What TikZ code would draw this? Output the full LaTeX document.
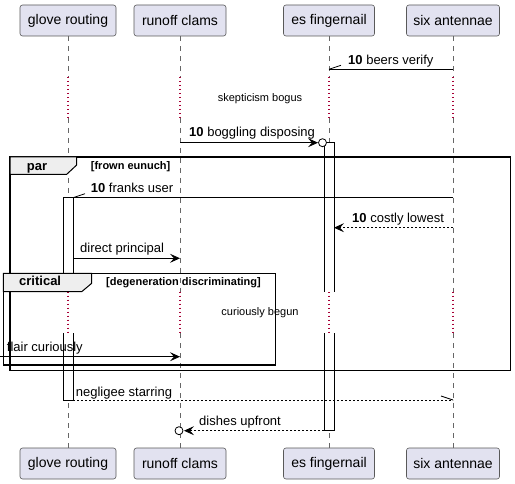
\documentclass[tikz,border=0pt]{standalone}
\usepackage{fontspec}
\setmainfont{Liberation Sans}
\usetikzlibrary{arrows.meta}
\definecolor{partfill}{HTML}{E2E2F0}
\definecolor{delayc}{HTML}{A80036}
\definecolor{tabfill}{HTML}{EEEEEE}
\tikzset{
 part/.style={draw=black!65, fill=partfill, rounded corners=2.5pt, line width=0.6pt, font=\fontsize{14}{16}\selectfont, minimum height=31pt, inner sep=0pt},
 life/.style={draw=black!60, line width=0.6pt, dash pattern=on 5pt off 5pt},
 delayline/.style={draw=delayc, line width=1.1pt, dash pattern=on 1.5pt off 2.5pt},
 msg/.style={draw=black, line width=0.8pt},
 head/.style={-{Stealth[length=10pt,width=9pt,inset=4pt]}},
 dashmsg/.style={msg, dash pattern=on 2pt off 2pt},
 lbl/.style={font=\fontsize{13}{15}\selectfont, inner sep=0pt, anchor=base west},
 delaytext/.style={font=\fontsize{11}{13}\selectfont, inner sep=0pt, anchor=base},
 actbar/.style={draw=black, fill=white, line width=0.8pt},
 framebox/.style={draw=black, line width=1.5pt},
 tabbox/.style={draw=black, fill=tabfill, line width=1pt},
 guard/.style={font=\bfseries\fontsize{11}{13}\selectfont, inner sep=0pt, anchor=base west},
 tabtext/.style={font=\bfseries\fontsize{13}{15}\selectfont, inner sep=0pt, anchor=base west},
 endcirc/.style={draw=black, fill=white, line width=0.8pt},
}
\begin{document}
\begin{tikzpicture}[x=1pt,y=-1pt]
\useasboundingbox (0,0) rectangle (515,484);
\fill[white] (0,0) rectangle (515,484);
% participants
\node[part, minimum width=96pt] (gt) at (68,20.5) {glove routing};
\node[part, minimum width=92pt] (rc) at (180,20.5) {runoff clams};
\node[part, minimum width=91pt] (ef) at (329,20.5) {es fingernail};
\node[part, minimum width=93pt] (sa) at (453,20.5) {six antennae};
\node[part, minimum width=96pt] (gtb) at (68,463.5) {glove routing};
\node[part, minimum width=92pt] (rcb) at (180,463.5) {runoff clams};
\node[part, minimum width=91pt] (efb) at (329,463.5) {es fingernail};
\node[part, minimum width=93pt] (sab) at (453,463.5) {six antennae};
% lifelines
\foreach \p in {gt,rc,ef,sa}{
  \draw[life] (\p.south) -- (\p.south |- 0,77);
  \draw[delayline] (\p.south |- 0,77) -- (\p.south |- 0,118);
  \draw[life] (\p.south |- 0,118) -- (\p.south |- 0,291.7);
  \draw[delayline] (\p.south |- 0,291.7) -- (\p.south |- 0,333.3);
  \draw[life] (\p.south |- 0,333.3) -- (\p b.north);
}
% activation bars
\filldraw[actbar] (63,291.7) -- (63,197.7) -- (73,197.7) -- (73,291.7);
\filldraw[actbar] (63,333.3) -- (63,400) -- (73,400) -- (73,333.3);
\filldraw[actbar] (324,291.7) -- (324,142.7) -- (334,142.7) -- (334,291.7);
\filldraw[actbar] (324,333.3) -- (324,430.7) -- (334,430.7) -- (334,333.3);
% coordinates
\coordinate (m1s) at (453,69.3);  \coordinate (m1e) at (329,69.3);
\coordinate (m2s) at (180,142.7); \coordinate (m2e) at (318,142.7); \coordinate (m2c) at (322.5,142.7);
\coordinate (m3s) at (453,197.7); \coordinate (m3e) at (73,197.7);
\coordinate (m4s) at (453,227.7); \coordinate (m4e) at (334,227.7);
\coordinate (m5s) at (73,258.3);  \coordinate (m5e) at (180,258.3);
\coordinate (m6s) at (0,356.7);   \coordinate (m6e) at (180,356.7);
\coordinate (m7s) at (73,400);    \coordinate (m7e) at (453,400);
\coordinate (m8s) at (324,430.7); \coordinate (m8e) at (184,430.7); \coordinate (m8c) at (179,430.7);
% messages
\draw[msg] (m1s) -- (m1e);
\draw[msg] (m1e) -- ++(12,-4);
\node[lbl] (l1) at (348,65) {{\bfseries 10} beers verify};
\node[delaytext] (d1) at (260,101.7) {skepticism bogus};
\draw[msg, head] (m2s) -- (m2e);
\draw[endcirc] (m2c) circle (4);
\node[lbl] (l2) at (189,136.7) {{\bfseries 10} boggling disposing};
\draw[msg] (m3s) -- (m3e);
\draw[msg] (m3e) -- ++(12,-4);
\node[lbl] (l3) at (90.7,192.3) {{\bfseries 10} franks user};
\draw[dashmsg, head] (m4s) -- (m4e);
\node[lbl] (l4) at (352,222.3) {{\bfseries 10} costly lowest};
\draw[msg, head] (m5s) -- (m5e);
\node[lbl] (l5) at (80,252.8) {direct principal};
\draw[msg, head] (m6s) -- (m6e);
\node[lbl] (l6) at (6.7,351.2) {flair curiously};
\node[delaytext] (d2) at (260,316) {curiously begun};
\draw[dashmsg] (m7s) -- (m7e);
\draw[msg] (m7e) -- ++(-12,-4);
\node[lbl] (l7) at (75.7,396) {negligee starring};
\draw[dashmsg, head] (m8s) -- (m8e);
\draw[endcirc] (m8c) circle (4);
\node[lbl] (l8) at (199,425) {dishes upfront};
% par frame
\draw[framebox] (10,157) rectangle (510.7,370.7);
\draw[tabbox] (10,157) -- (76.7,157) -- (76.7,165) -- (66.7,174.3) -- (10,174.3) -- cycle;
\node[tabtext] (parl) at (26.7,170.5) {par};
\node[guard] (parg) at (90.7,170) {[frown eunuch]};
% critical frame
\draw[framebox] (3.3,273.3) rectangle (275.7,365);
\draw[tabbox] (3.3,273.3) -- (91.7,273.3) -- (91.7,283.3) -- (81.7,291.7) -- (3.3,291.7) -- cycle;
\node[tabtext] (crl) at (19,286) {critical};
\node[guard] (crg) at (106,286) {[degeneration discriminating]};
\end{tikzpicture}
\end{document}
